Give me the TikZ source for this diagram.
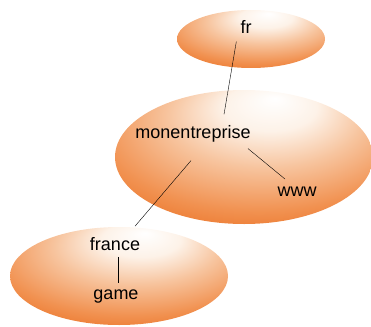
\documentclass[tikz,border=0pt]{standalone}
\usepackage{fontspec}
\setmainfont{Liberation Sans}
\usepackage{tikz}
\usetikzlibrary{shapes.geometric}

\definecolor{orangefonce}{RGB}{232,100,18}
\definecolor{orangemoyen}{RGB}{241,145,80}
\definecolor{orangeclair}{RGB}{247,196,158}
\definecolor{presqueblanc}{RGB}{253,242,232}

\pgfdeclareradialshading{bulle}{\pgfpoint{6bp}{22bp}}{%
  color(0bp)=(white);
  color(9bp)=(presqueblanc);
  color(19bp)=(orangeclair);
  color(31bp)=(orangemoyen);
  color(43bp)=(orangefonce);
  color(60bp)=(orangefonce)}

\tikzset{
  bulle/.style={ellipse, shading=bulle},
  mot/.style={font=\fontsize{18}{20}\selectfont, inner sep=4pt},
  lien/.style={draw, thin}
}

\begin{document}
\begin{tikzpicture}[x=1pt,y=-1pt]
 \useasboundingbox (0,0) rectangle (371,326);
 % bulles
 \node[bulle, minimum width=148, minimum height=58] (b1) at (251,39) {};
 \node[bulle, minimum width=258, minimum height=134] (b2) at (244,157) {};
 \node[bulle, minimum width=218, minimum height=98] (b3) at (119,276) {};
 % mots
 \node[mot] (fr) at (246,27) {fr};
 \node[mot] (monentreprise) at (193,134) {monentreprise};
 \node[mot] (www) at (297,192) {www};
 \node[mot] (france) at (115,244) {france};
 \node[mot] (game) at (116,297) {game};
 % liens
 \draw[lien] ([yshift=-4pt]fr.south west) -- ([xshift=31pt,yshift=7pt]monentreprise.north);
 \draw[lien] ([xshift=55pt,yshift=-2pt]monentreprise.south) -- ([xshift=-12pt,yshift=4pt]www.north);
 \draw[lien] ([xshift=-2pt,yshift=-14pt]monentreprise.south) -- ([xshift=20pt,yshift=7pt]france.north);
 \draw[lien] ([xshift=3pt,yshift=-2pt]france.south) -- ([xshift=2pt,yshift=3pt]game.north);
\end{tikzpicture}
\end{document}
